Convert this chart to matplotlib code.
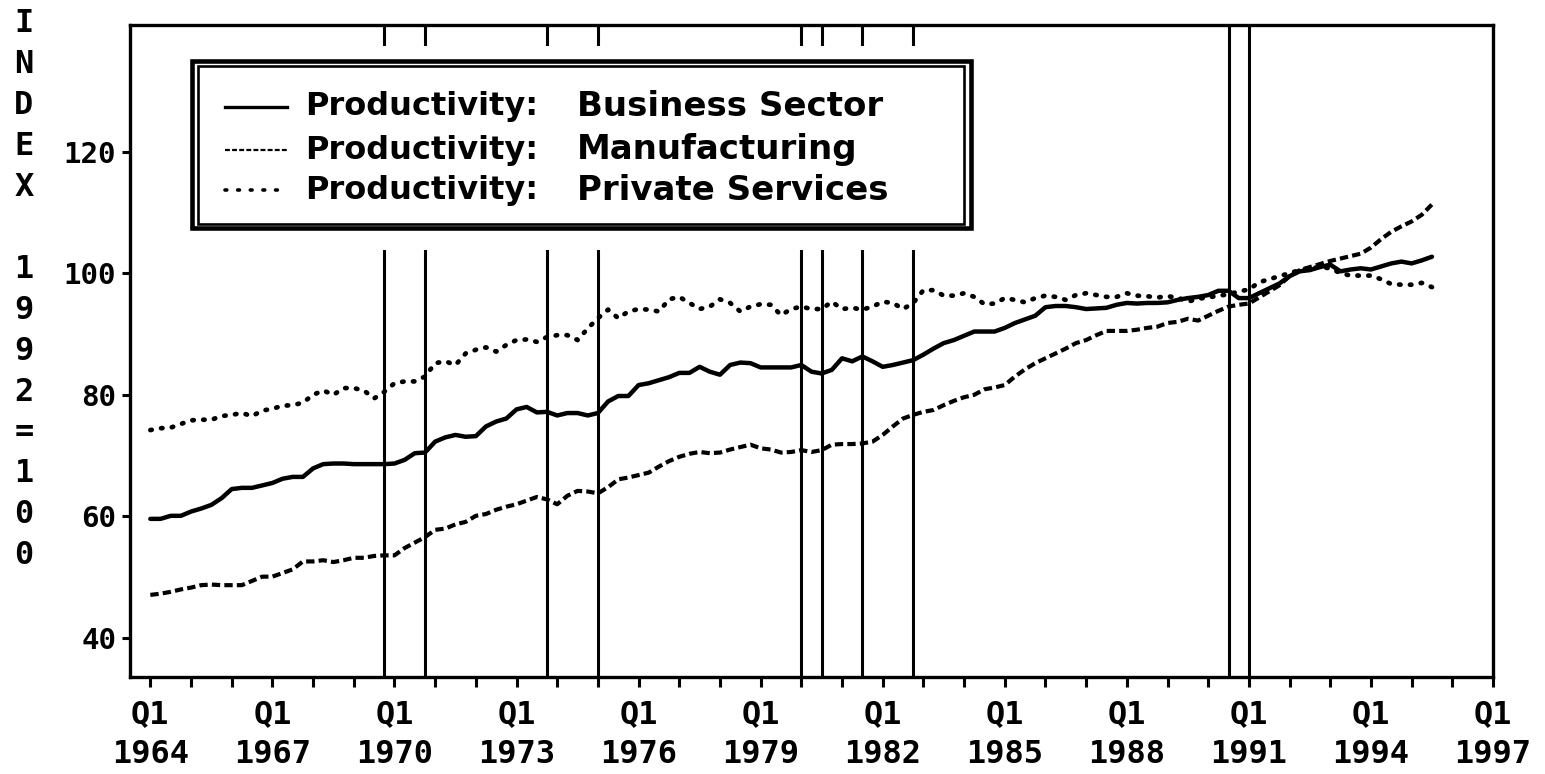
import matplotlib
matplotlib.use("Agg")
import matplotlib.pyplot as plt
import numpy as np
from matplotlib.patches import Rectangle
from matplotlib.lines import Line2D

# quarterly productivity index, 1992 = 100, from 1964Q1 to 1995Q3
business = [
    59.6, 59.6, 60.1, 60.1,  60.8, 61.3, 61.9, 63.0,  64.5, 64.7, 64.7, 65.1,
    65.5, 66.2, 66.5, 66.5,  67.9, 68.6, 68.7, 68.7,  68.6, 68.6, 68.6, 68.6,
    68.7, 69.3, 70.4, 70.5,  72.3, 73.0, 73.4, 73.1,  73.2, 74.8, 75.6, 76.1,
    77.6, 78.0, 77.1, 77.2,  76.6, 77.0, 77.0, 76.6,  77.0, 78.9, 79.8, 79.8,
    81.6, 81.9, 82.4, 82.9,  83.6, 83.6, 84.6, 83.8,  83.3, 84.9, 85.3, 85.2,
    84.5, 84.5, 84.5, 84.5,  84.9, 83.8, 83.5, 84.1,  86.0, 85.5, 86.3, 85.5,
    84.6, 84.9, 85.3, 85.7,  86.6, 87.6, 88.5, 89.0,  89.7, 90.4, 90.4, 90.4,
    91.0, 91.8, 92.4, 93.0,  94.4, 94.6, 94.6, 94.4,  94.1, 94.2, 94.3, 94.8,
    95.1, 95.0, 95.1, 95.1,  95.2, 95.6, 95.9, 96.1,  96.4, 97.1, 97.1, 95.9,
    95.9, 96.7, 97.5, 98.3,  99.5, 100.3, 100.5, 101.0,  101.4, 100.3, 100.6, 100.8,
    100.6, 101.1, 101.6, 101.9,  101.6, 102.1, 102.7,
]
manufacturing = [
    47.1, 47.3, 47.6, 48.0,  48.3, 48.7, 48.8, 48.7,  48.7, 48.7, 49.4, 50.1,
    50.1, 50.7, 51.3, 52.6,  52.6, 52.8, 52.5, 52.8,  53.2, 53.2, 53.5, 53.6,
    53.6, 54.8, 55.7, 56.6,  57.8, 58.0, 58.7, 59.1,  60.1, 60.4, 61.1, 61.6,
    62.0, 62.6, 63.2, 62.8,  62.0, 63.4, 64.2, 64.1,  63.8, 64.8, 66.1, 66.4,
    66.8, 67.2, 68.2, 69.1,  69.8, 70.3, 70.6, 70.4,  70.5, 71.0, 71.4, 71.8,
    71.2, 71.0, 70.5, 70.6,  70.9, 70.6, 70.9, 71.8,  71.9, 71.9, 72.0, 72.3,
    73.4, 74.8, 76.1, 76.7,  77.2, 77.5, 78.3, 79.0,  79.6, 80.0, 80.9, 81.2,
    81.6, 83.0, 84.2, 85.2,  86.0, 86.8, 87.6, 88.5,  89.0, 89.8, 90.5, 90.5,
    90.5, 90.7, 91.0, 91.2,  91.8, 92.0, 92.5, 92.2,  93.0, 93.8, 94.5, 94.8,
    95.0, 96.0, 97.0, 98.0,  99.5, 100.5, 101.0, 101.5,  102.0, 102.4, 102.8, 103.2,
    104.2, 105.6, 106.8, 107.7,  108.5, 109.6, 111.3,
]
services = [
    74.2, 74.5, 74.6, 75.2,  75.8, 75.9, 75.9, 76.5,  76.7, 77.0, 76.5, 77.4,
    77.7, 78.2, 78.3, 78.7,  80.0, 80.7, 80.0, 81.1,  81.1, 80.7, 79.4, 80.5,
    81.9, 82.2, 82.2, 83.0,  85.2, 85.5, 84.9, 86.8,  87.4, 87.8, 87.1, 88.2,
    89.0, 89.1, 88.7, 89.5,  89.8, 89.8, 89.0, 90.9,  92.6, 94.0, 92.6, 93.7,
    94.1, 94.0, 93.7, 95.7,  96.1, 95.1, 94.1, 94.5,  95.7, 95.1, 93.7, 94.5,
    94.9, 94.8, 93.1, 94.1,  94.5, 94.1, 94.1, 95.3,  94.1, 94.3, 94.0, 94.5,
    95.3, 95.1, 94.1, 95.1,  97.2, 97.2, 96.3, 96.3,  96.7, 96.1, 94.9, 95.0,
    95.9, 95.6, 95.2, 95.9,  96.3, 96.1, 95.6, 96.4,  96.7, 96.4, 96.1, 96.1,
    96.7, 96.3, 96.2, 96.0,  96.2, 96.0, 95.3, 95.8,  96.0, 96.3, 96.5, 97.0,
    97.3, 98.5, 99.0, 99.5,  100.0, 100.5, 100.8, 101.0,  100.8, 100.0, 99.6, 99.6,
    99.6, 99.0, 98.2, 98.1,  98.1, 98.4, 97.7,
]
# business cycle peaks and troughs
recessions = ["1969Q4", "1970Q4", "1973Q4", "1975Q1", "1980Q1",
              "1980Q3", "1981Q3", "1982Q4", "1990Q3", "1991Q1"]
tick_years = list(range(1964, 1998))
label_years = list(range(1964, 1998, 3))
y_ticks = [40, 60, 80, 100, 120]
series_names = ["Business Sector", "Manufacturing", "Private Services"]

MONO = "DejaVu Sans Mono"
W, H = 1545, 774
AX_L, AX_R, AX_T, AX_B = 130, 1493, 25, 677


def qpos(s):
    return int(s[:4]) + (int(s[5]) - 1) / 4


def px(x, y):
    # picture pixels -> axes fraction
    return (x - AX_L) / (AX_R - AX_L), (AX_B - y) / (AX_B - AX_T)


fig = plt.figure(figsize=(W / 100, H / 100), dpi=100)
ax = fig.add_axes([AX_L / W, 1 - AX_B / H, (AX_R - AX_L) / W, (AX_B - AX_T) / H])
ax.set_xlim(1963.5, 1997.0)
ax.set_ylim(33.6, 140.8)

dates = 1964 + np.arange(len(business)) / 4

for r in recessions:
    ax.axvline(qpos(r), color="black", lw=2.2, zorder=1)

# white block behind the legend: recession lines stop there
mx0, my0 = px(170, 250)
mx1, my1 = px(990, 46)
ax.add_patch(Rectangle((mx0, my0), mx1 - mx0, my1 - my0, transform=ax.transAxes,
                       facecolor="white", edgecolor="none", zorder=2))

ax.plot(dates, business, color="black", lw=3.2, solid_capstyle="round",
        solid_joinstyle="round", zorder=4)
ax.plot(dates, manufacturing, color="black", lw=3, linestyle=(0, (2.0, 1.0)),
        dash_capstyle="butt", zorder=4)
ax.plot(dates, services, color="black", lw=3.4, linestyle=(0, (0.3, 2.0)),
        dash_capstyle="round", zorder=4)

# double framed legend
for (x0, y0, x1, y1, lw) in [(191.7, 60.8, 970.5, 228.3, 3.3), (198, 66, 964, 223.8, 1.9)]:
    a0, b0 = px(x0, y1)
    a1, b1 = px(x1, y0)
    ax.add_patch(Rectangle((a0, b0), a1 - a0, b1 - b0, transform=ax.transAxes,
                           facecolor="none", edgecolor="black", lw=lw, zorder=5))

styles = [dict(ls="-", lw=2.4), dict(ls=(0, (2.2, 1.0)), lw=1.6),
          dict(ls=(0, (0.5, 3.0)), lw=2.6, dash_capstyle="round")]
for name, row_y, st in zip(series_names, [107, 150, 190], styles):
    s0 = px(225, row_y)
    s1 = px(287, row_y)
    ax.add_line(Line2D([s0[0], s1[0]], [s0[1], s1[1]], color="black",
                       transform=ax.transAxes, zorder=6, **st))
    tx, ty = px(305, row_y)
    ax.text(tx, ty, "Productivity:", transform=ax.transAxes, fontsize=23,
            fontweight="bold", family="DejaVu Sans", va="center", ha="left", zorder=6)
    tx, ty = px(577, row_y)
    ax.text(tx, ty, name, transform=ax.transAxes, fontsize=24.5,
            fontweight="bold", family="DejaVu Sans", va="center", ha="left", zorder=6)

# axes, ticks
for sp in ax.spines.values():
    sp.set_linewidth(2.4)
ax.set_xticks(tick_years)
ax.set_xticklabels([f"Q1\n{y}" if y in label_years else "" for y in tick_years],
                   family=MONO, fontweight="bold", fontsize=23, linespacing=1.35)
ax.set_yticks(y_ticks)
ax.set_yticklabels([str(v) for v in y_ticks], family=MONO, fontweight="bold", fontsize=21)
ax.tick_params(axis="x", direction="out", length=7, width=2.2, pad=9)
ax.tick_params(axis="y", direction="out", length=6, width=2.2, pad=4)

# stacked vertical axis title
for i, ch in enumerate("INDEX 1992=100"):
    if ch != " ":
        fig.text(24 / W, 1 - (24 + 40.9 * i) / H, ch, family=MONO, fontweight="bold",
                 fontsize=23, ha="center", va="center")

fig.savefig("out.png", dpi=100)
plt.close(fig)
